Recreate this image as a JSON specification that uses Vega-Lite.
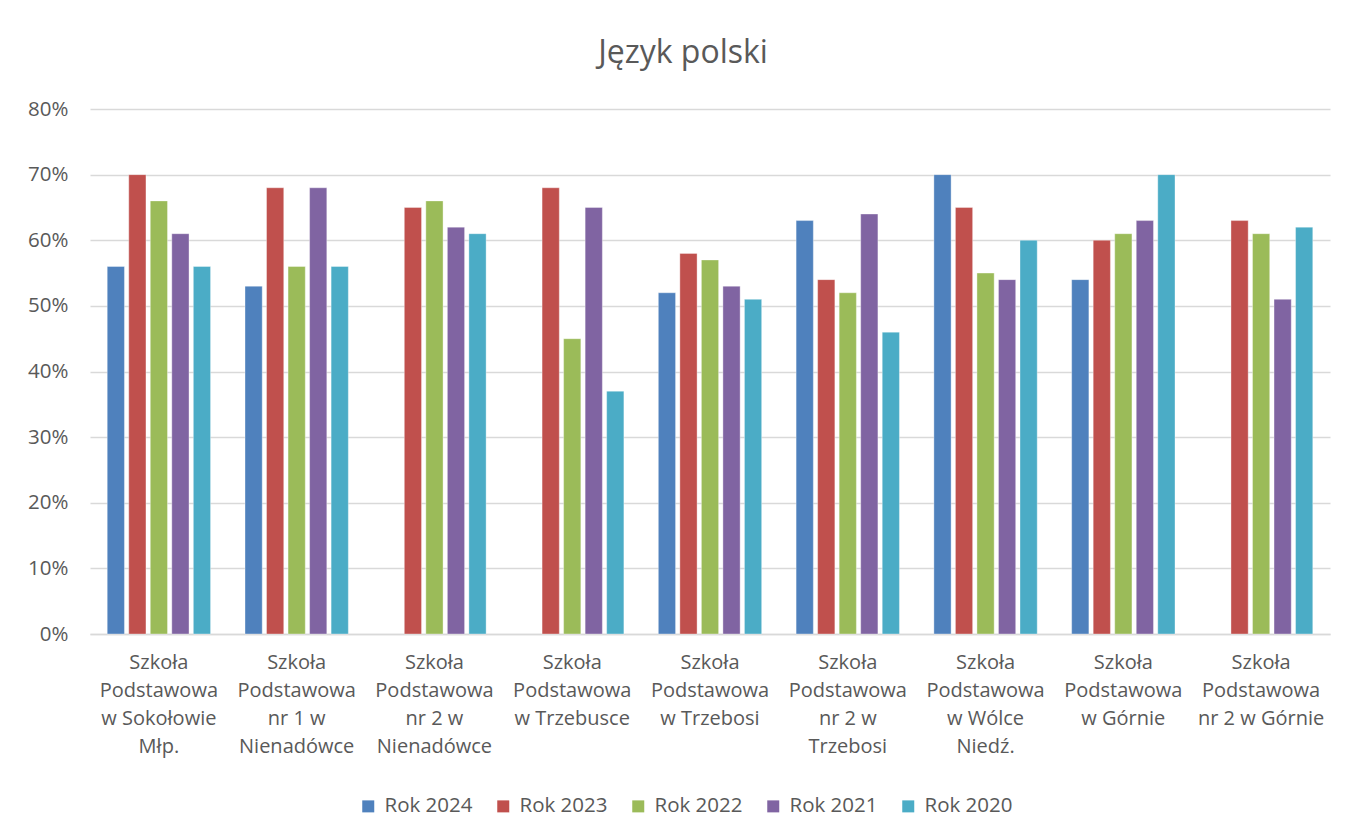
{
  "$schema": "https://vega.github.io/schema/vega-lite/v6.json",
  "width": 1240,
  "height": 525,
  "autosize": {"type": "none"},
  "padding": {"left": 90, "top": 109, "right": 21, "bottom": 204},
  "background": "white",
  "title": {
    "text": "Język polski",
    "fontSize": 32,
    "font": "Open Sans",
    "fontWeight": "normal",
    "color": "#595959",
    "offset": 29,
    "dx": -27
  },
  "data": {
    "values": [
      {"school": "Szkoła\nPodstawowa\nw Sokołowie\nMłp.", "rok": "Rok 2024", "wynik": 0.56},
      {"school": "Szkoła\nPodstawowa\nw Sokołowie\nMłp.", "rok": "Rok 2023", "wynik": 0.70},
      {"school": "Szkoła\nPodstawowa\nw Sokołowie\nMłp.", "rok": "Rok 2022", "wynik": 0.66},
      {"school": "Szkoła\nPodstawowa\nw Sokołowie\nMłp.", "rok": "Rok 2021", "wynik": 0.61},
      {"school": "Szkoła\nPodstawowa\nw Sokołowie\nMłp.", "rok": "Rok 2020", "wynik": 0.56},
      {"school": "Szkoła\nPodstawowa\nnr 1 w\nNienadówce", "rok": "Rok 2024", "wynik": 0.53},
      {"school": "Szkoła\nPodstawowa\nnr 1 w\nNienadówce", "rok": "Rok 2023", "wynik": 0.68},
      {"school": "Szkoła\nPodstawowa\nnr 1 w\nNienadówce", "rok": "Rok 2022", "wynik": 0.56},
      {"school": "Szkoła\nPodstawowa\nnr 1 w\nNienadówce", "rok": "Rok 2021", "wynik": 0.68},
      {"school": "Szkoła\nPodstawowa\nnr 1 w\nNienadówce", "rok": "Rok 2020", "wynik": 0.56},
      {"school": "Szkoła\nPodstawowa\nnr 2 w\nNienadówce", "rok": "Rok 2023", "wynik": 0.65},
      {"school": "Szkoła\nPodstawowa\nnr 2 w\nNienadówce", "rok": "Rok 2022", "wynik": 0.66},
      {"school": "Szkoła\nPodstawowa\nnr 2 w\nNienadówce", "rok": "Rok 2021", "wynik": 0.62},
      {"school": "Szkoła\nPodstawowa\nnr 2 w\nNienadówce", "rok": "Rok 2020", "wynik": 0.61},
      {"school": "Szkoła\nPodstawowa\nw Trzebusce", "rok": "Rok 2023", "wynik": 0.68},
      {"school": "Szkoła\nPodstawowa\nw Trzebusce", "rok": "Rok 2022", "wynik": 0.45},
      {"school": "Szkoła\nPodstawowa\nw Trzebusce", "rok": "Rok 2021", "wynik": 0.65},
      {"school": "Szkoła\nPodstawowa\nw Trzebusce", "rok": "Rok 2020", "wynik": 0.37},
      {"school": "Szkoła\nPodstawowa\nw Trzebosi", "rok": "Rok 2024", "wynik": 0.52},
      {"school": "Szkoła\nPodstawowa\nw Trzebosi", "rok": "Rok 2023", "wynik": 0.58},
      {"school": "Szkoła\nPodstawowa\nw Trzebosi", "rok": "Rok 2022", "wynik": 0.57},
      {"school": "Szkoła\nPodstawowa\nw Trzebosi", "rok": "Rok 2021", "wynik": 0.53},
      {"school": "Szkoła\nPodstawowa\nw Trzebosi", "rok": "Rok 2020", "wynik": 0.51},
      {"school": "Szkoła\nPodstawowa\nnr 2 w\nTrzebosi", "rok": "Rok 2024", "wynik": 0.63},
      {"school": "Szkoła\nPodstawowa\nnr 2 w\nTrzebosi", "rok": "Rok 2023", "wynik": 0.54},
      {"school": "Szkoła\nPodstawowa\nnr 2 w\nTrzebosi", "rok": "Rok 2022", "wynik": 0.52},
      {"school": "Szkoła\nPodstawowa\nnr 2 w\nTrzebosi", "rok": "Rok 2021", "wynik": 0.64},
      {"school": "Szkoła\nPodstawowa\nnr 2 w\nTrzebosi", "rok": "Rok 2020", "wynik": 0.46},
      {"school": "Szkoła\nPodstawowa\nw Wólce\nNiedź.", "rok": "Rok 2024", "wynik": 0.70},
      {"school": "Szkoła\nPodstawowa\nw Wólce\nNiedź.", "rok": "Rok 2023", "wynik": 0.65},
      {"school": "Szkoła\nPodstawowa\nw Wólce\nNiedź.", "rok": "Rok 2022", "wynik": 0.55},
      {"school": "Szkoła\nPodstawowa\nw Wólce\nNiedź.", "rok": "Rok 2021", "wynik": 0.54},
      {"school": "Szkoła\nPodstawowa\nw Wólce\nNiedź.", "rok": "Rok 2020", "wynik": 0.60},
      {"school": "Szkoła\nPodstawowa\nw Górnie", "rok": "Rok 2024", "wynik": 0.54},
      {"school": "Szkoła\nPodstawowa\nw Górnie", "rok": "Rok 2023", "wynik": 0.60},
      {"school": "Szkoła\nPodstawowa\nw Górnie", "rok": "Rok 2022", "wynik": 0.61},
      {"school": "Szkoła\nPodstawowa\nw Górnie", "rok": "Rok 2021", "wynik": 0.63},
      {"school": "Szkoła\nPodstawowa\nw Górnie", "rok": "Rok 2020", "wynik": 0.70},
      {"school": "Szkoła\nPodstawowa\nnr 2 w Górnie", "rok": "Rok 2023", "wynik": 0.63},
      {"school": "Szkoła\nPodstawowa\nnr 2 w Górnie", "rok": "Rok 2022", "wynik": 0.61},
      {"school": "Szkoła\nPodstawowa\nnr 2 w Górnie", "rok": "Rok 2021", "wynik": 0.51},
      {"school": "Szkoła\nPodstawowa\nnr 2 w Górnie", "rok": "Rok 2020", "wynik": 0.62}
    ]
  },
  "mark": {"type": "bar", "stroke": "white", "strokeWidth": 0.6, "strokeOpacity": 0.6},
  "encoding": {
    "x": {
      "field": "school",
      "type": "nominal",
      "sort": null,
      "scale": {"paddingInner": 0.25, "paddingOuter": 0.125},
      "axis": {
        "title": null,
        "labelAngle": 0,
        "labelExpr": "split(datum.label, '\\n')",
        "labelFontSize": 20,
        "labelLineHeight": 28,
        "labelColor": "#595959",
        "labelFont": "Open Sans",
        "labelPadding": 18,
        "labelBaseline": "top",
        "ticks": false,
        "domain": true,
        "domainColor": "#D9D9D9",
        "domainWidth": 1.5,
        "labelLimit": 0
      }
    },
    "xOffset": {
      "field": "rok",
      "type": "nominal",
      "sort": ["Rok 2024", "Rok 2023", "Rok 2022", "Rok 2021", "Rok 2020"],
      "scale": {"domain": ["Rok 2024", "Rok 2023", "Rok 2022", "Rok 2021", "Rok 2020"], "paddingInner": 0.2, "paddingOuter": 0}
    },
    "y": {
      "field": "wynik",
      "type": "quantitative",
      "scale": {"domain": [0, 0.8], "nice": false},
      "axis": {
        "title": null,
        "format": ".0%",
        "values": [0, 0.1, 0.2, 0.3, 0.4, 0.5, 0.6, 0.7, 0.8],
        "labelFontSize": 20.5,
        "labelColor": "#595959",
        "labelFont": "Open Sans",
        "labelPadding": 22,
        "ticks": false,
        "domain": false,
        "grid": true,
        "gridColor": "#D9D9D9",
        "gridWidth": 1.5
      }
    },
    "color": {
      "field": "rok",
      "type": "nominal",
      "sort": ["Rok 2024", "Rok 2023", "Rok 2022", "Rok 2021", "Rok 2020"],
      "scale": {
        "domain": ["Rok 2024", "Rok 2023", "Rok 2022", "Rok 2021", "Rok 2020"],
        "range": ["#4F81BD", "#C0504D", "#9BBB59", "#8064A2", "#4BACC6"]
      },
      "legend": {
        "title": null,
        "orient": "none",
        "legendX": 268,
        "legendY": 687,
        "direction": "horizontal",
        "symbolType": "square",
        "symbolSize": 144,
        "symbolStrokeWidth": 0,
        "labelFontSize": 20.5,
        "labelColor": "#595959",
        "labelFont": "Open Sans",
        "columnPadding": 20,
        "symbolOffset": 0,
        "labelOffset": 6
      }
    }
  },
  "config": {
    "view": {"stroke": null}
  }
}
